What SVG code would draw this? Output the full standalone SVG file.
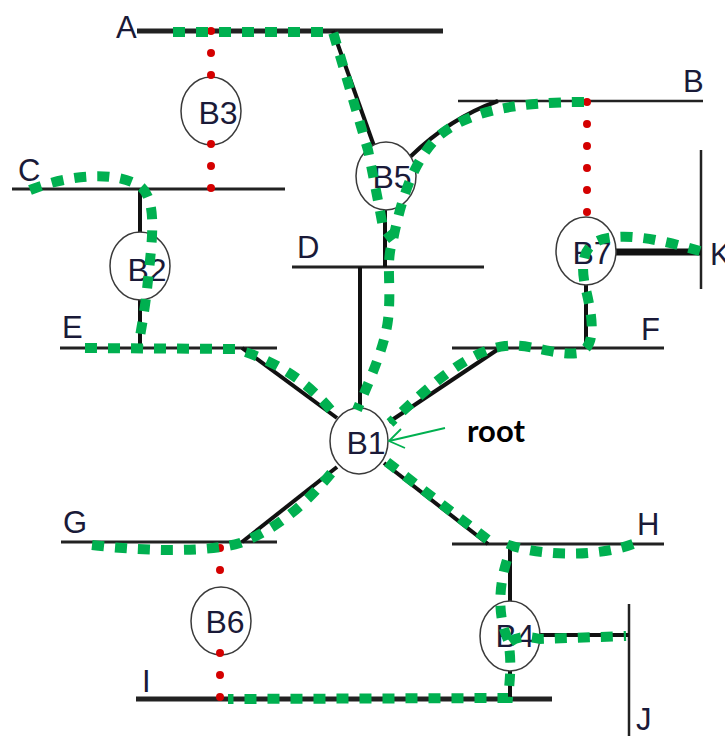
<svg xmlns="http://www.w3.org/2000/svg" width="725" height="736" viewBox="0 0 725 736">
<style>
  .bus{stroke:#222;stroke-width:3;fill:none}
  .busT{stroke:#222;stroke-width:5;fill:none}
  .lbl{font-family:"Liberation Sans",Arial,sans-serif;font-size:31px;fill:#1a1a38}
  .nd{fill:#fff;stroke:#3a3a3a;stroke-width:1.5}
  .ntx{font-family:"Liberation Sans",Arial,sans-serif;font-size:32px;fill:#1a1a38;text-anchor:middle}
  .con{stroke:#111;stroke-width:4;fill:none}
  .red{stroke:#d40000;stroke-width:8;stroke-linecap:round;stroke-dasharray:0 22;fill:none}
  .grn{stroke:#00b050;stroke-width:10;stroke-dasharray:12 11;fill:none}
</style>
<rect width="725" height="736" fill="#fff"/>

<g id="bus-A"><line class="busT" x1="137" y1="31" x2="443" y2="31"/><text class="lbl" x="116" y="38">A</text></g>
<g id="bus-B"><line class="bus" x1="458" y1="101" x2="703" y2="101" style="stroke-width:2.5"/><text class="lbl" x="683" y="92">B</text></g>
<g id="bus-C"><line class="bus" x1="12" y1="189" x2="285" y2="189"/><text class="lbl" x="18" y="181">C</text></g>
<g id="bus-D"><line class="bus" x1="292" y1="267" x2="484" y2="267"/><text class="lbl" x="297" y="258">D</text></g>
<g id="bus-E"><line class="bus" x1="60" y1="348" x2="277" y2="348"/><text class="lbl" x="62" y="338">E</text></g>
<g id="bus-F"><line class="bus" x1="452" y1="348" x2="664" y2="348"/><text class="lbl" x="641" y="340">F</text></g>
<g id="bus-G"><line class="bus" x1="61" y1="542" x2="277" y2="542"/><text class="lbl" x="63" y="533">G</text></g>
<g id="bus-H"><line class="bus" x1="452" y1="544" x2="664" y2="544"/><text class="lbl" x="637" y="535">H</text></g>
<g id="bus-I"><line class="busT" x1="136" y1="699" x2="552" y2="699"/><text class="lbl" x="142" y="692">I</text></g>
<g id="bus-J"><line class="bus" x1="629" y1="604" x2="629" y2="736" style="stroke-width:2.5"/><text class="lbl" x="636" y="730">J</text></g>
<g id="bus-K"><line class="bus" x1="701" y1="150" x2="701" y2="289" style="stroke-width:2.5"/><text class="lbl" x="710" y="265">K</text></g>

<g id="connectors">
  <g id="solid">
    <line class="con" x1="333" y1="31" x2="374" y2="146"/>
    <path class="con" d="M410,157 Q450,118 498,101"/>
    <line class="con" x1="385" y1="209" x2="385" y2="267"/>
    <line class="con" x1="140" y1="189" x2="140" y2="234"/>
    <line class="con" x1="140" y1="299" x2="140" y2="348"/>
    <line class="con" x1="360" y1="267" x2="360" y2="409"/>
    <line class="con" x1="242" y1="348" x2="337" y2="418"/>
    <line class="con" x1="500" y1="348" x2="389" y2="422"/>
    <line class="con" x1="586" y1="284" x2="586" y2="348"/>
    <line class="con" x1="616" y1="252" x2="701" y2="252" style="stroke-width:7"/>
    <line class="con" x1="242" y1="542" x2="337" y2="467"/>
    <line class="con" x1="384" y1="463" x2="488" y2="544"/>
    <line class="con" x1="510" y1="544" x2="510" y2="602"/>
    <line class="con" x1="540" y1="635" x2="629" y2="635"/>
    <line class="con" x1="510" y1="670" x2="510" y2="699"/>
  </g>
</g>

<g id="B3"><ellipse class="nd" cx="211" cy="111" rx="30" ry="34"/><text class="ntx" x="218" y="124">B3</text></g>
<g id="B5"><ellipse class="nd" cx="386" cy="176" rx="30" ry="34"/><text class="ntx" x="392" y="188">B5</text></g>
<g id="B2"><ellipse class="nd" cx="140" cy="266" rx="30" ry="34"/><text class="ntx" x="147" y="281">B2</text></g>
<g id="B7"><ellipse class="nd" cx="586" cy="251" rx="30" ry="34"/><text class="ntx" x="592" y="264">B7</text></g>
<g id="B1"><ellipse class="nd" cx="359" cy="441" rx="29" ry="33"/><text class="ntx" x="366" y="454">B1</text></g>
<g id="B6"><ellipse class="nd" cx="221" cy="621" rx="30" ry="34"/><text class="ntx" x="225" y="633">B6</text></g>
<g id="B4"><ellipse class="nd" cx="510" cy="636" rx="30" ry="35"/><text class="ntx" x="515" y="647">B4</text></g>

<g id="connectors-dotted">
  <line class="red" x1="211" y1="31" x2="211" y2="76"/>
  <line class="red" x1="211" y1="144" x2="211" y2="189"/>
  <line class="red" x1="587" y1="102" x2="587" y2="213"/>
  <line class="red" x1="220" y1="548" x2="220" y2="571"/>
  <line class="red" x1="220" y1="653" x2="220" y2="698"/>
</g>

<g id="connectors-green">
  <path class="grn" d="M173,32 L333,32 L368,150 Q378,200 383,227 L393,240"/>
  <path class="grn" d="M584,102 C520,102 470,110 440,135 C415,158 402,195 393,240 C385,262 392,285 388,320 C385,345 372,375 357,410"/>
  <path class="grn" d="M30,190 C60,178 110,168 140,186 C158,200 152,240 148,280 C145,310 141,330 138,348"/>
  <path class="grn" d="M85,348 L236,349 Q300,368 337,418"/>
  <path class="grn" d="M700,251 C668,242 630,232 603,239 C582,245 580,265 586,290 C592,315 598,348 578,353 C555,356 530,343 505,346 C470,350 430,385 390,423"/>
  <path class="grn" d="M92,545 C150,552 210,552 240,543 C280,528 310,500 337,466"/>
  <path class="grn" d="M387,462 L492,543"/>
  <path class="grn" d="M633,544 C600,556 550,557 512,546 C500,575 495,610 508,640 C512,660 510,680 508,698 L228,699"/>
  <path class="grn" d="M510,642 C518,636 528,636 540,639 L626,636"/>
</g>

<g id="root-label">
  <line x1="445" y1="428" x2="389" y2="441" stroke="#00b050" stroke-width="1.8"/>
  <polyline points="401,429 389,441 405,448" fill="none" stroke="#00b050" stroke-width="1.8"/>
  <text x="467" y="442" style="font-family:Lato,'Open Sans',sans-serif;font-weight:bold;font-size:31px;fill:#000">root</text>
</g>
</svg>
